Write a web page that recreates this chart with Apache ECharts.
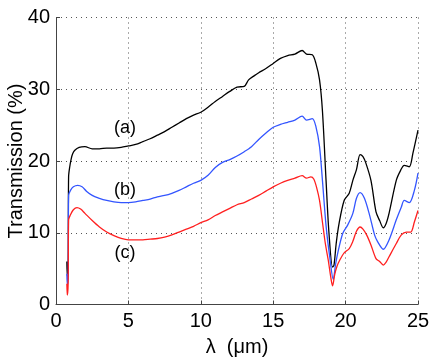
<!DOCTYPE html>
<html><head><meta charset="utf-8">
<script src="https://cdn.jsdelivr.net/npm/echarts@6/dist/echarts.min.js"></script>
<style>html,body{margin:0;padding:0;background:#fff}#c{width:436px;height:359px}</style>
</head><body><div id="c"></div>
<script>
const seriesA = [[0.75,6.0],[0.78,4.0],[0.84,5.0],[0.87,17.8],[0.95,19.2],[1.05,20.3],[1.15,21.0],[1.3,21.5],[1.6,21.9],[2.0,22.0],[2.5,21.7],[3.0,21.7],[3.5,21.8],[4.0,21.8],[4.5,21.9],[5.0,22.1],[5.5,22.3],[6.0,22.7],[6.5,23.1],[7.0,23.6],[7.5,24.1],[8.0,24.7],[8.5,25.3],[9.0,25.9],[9.5,26.4],[10.0,26.8],[10.5,27.5],[11.0,28.3],[11.5,29.0],[12.0,29.7],[12.5,30.3],[13.0,30.4],[13.3,31.3],[13.7,31.9],[14.0,32.3],[14.5,32.9],[15.0,33.6],[15.5,34.3],[16.0,34.7],[16.5,34.9],[17.0,35.4],[17.3,34.9],[17.7,34.8],[17.95,33.6],[18.2,31.3],[18.4,27.0],[18.65,17.3],[18.85,10.0],[19.1,5.2],[19.2,5.5],[19.35,8.5],[19.55,11.3],[19.9,14.5],[20.25,15.5],[20.5,17.3],[20.75,18.8],[21.0,20.9],[21.2,20.6],[21.4,19.7],[21.75,17.3],[22.1,12.9],[22.35,11.7],[22.6,10.7],[22.8,11.3],[23.0,12.7],[23.5,17.3],[23.8,18.7],[24.05,19.4],[24.4,19.2],[24.65,21.1],[25.0,24.3]];
const seriesB = [[0.75,4.3],[0.78,2.8],[0.84,4.0],[0.87,15.2],[1.0,15.9],[1.2,16.4],[1.5,16.6],[1.8,16.4],[2.1,15.8],[2.5,15.2],[3.0,14.8],[3.5,14.5],[4.0,14.3],[4.5,14.2],[5.0,14.2],[5.5,14.3],[6.0,14.5],[6.5,14.7],[7.0,15.0],[7.5,15.2],[8.0,15.5],[8.5,15.9],[9.0,16.4],[9.5,16.9],[10.0,17.3],[10.5,18.0],[11.0,19.1],[11.5,19.8],[12.0,20.2],[12.5,20.7],[13.0,21.3],[13.5,22.0],[14.0,23.0],[14.5,23.9],[15.0,24.7],[15.5,25.1],[16.0,25.4],[16.5,25.7],[17.0,26.25],[17.3,25.7],[17.7,25.9],[17.95,24.8],[18.2,22.0],[18.4,17.3],[18.65,11.0],[18.9,6.7],[19.15,3.5],[19.3,5.5],[19.45,7.1],[19.8,9.9],[20.15,11.1],[20.5,12.7],[20.75,14.8],[21.0,15.6],[21.3,14.8],[21.65,12.5],[22.0,9.7],[22.2,8.8],[22.6,7.7],[23.0,9.0],[23.5,11.8],[23.85,13.6],[24.05,14.5],[24.4,14.2],[24.75,15.9],[25.0,18.3]];
const seriesC = [[0.75,2.9],[0.78,1.3],[0.84,3.0],[0.87,11.8],[1.0,12.5],[1.2,13.2],[1.45,13.5],[1.7,13.3],[2.0,12.7],[2.5,11.7],[3.0,10.8],[3.5,10.1],[4.0,9.6],[4.5,9.2],[5.0,9.0],[5.5,9.0],[6.0,9.0],[6.5,9.1],[7.0,9.2],[7.5,9.4],[8.0,9.7],[8.5,10.1],[9.0,10.5],[9.5,10.9],[10.0,11.4],[10.5,11.8],[11.0,12.4],[11.5,12.9],[12.0,13.4],[12.5,13.9],[13.0,14.2],[13.5,14.7],[14.0,15.2],[14.5,15.8],[15.0,16.4],[15.5,16.9],[16.0,17.3],[16.5,17.6],[17.0,17.95],[17.3,17.6],[17.6,17.8],[17.8,17.5],[18.0,16.3],[18.2,14.5],[18.4,11.5],[18.6,8.5],[18.8,6.2],[19.0,3.5],[19.1,2.6],[19.25,4.2],[19.4,5.3],[19.6,6.2],[19.9,7.2],[20.25,7.8],[20.5,8.8],[20.75,10.2],[21.0,10.8],[21.2,10.5],[21.45,9.7],[21.75,8.3],[22.1,6.4],[22.35,6.0],[22.6,5.5],[22.8,5.9],[23.0,6.65],[23.5,8.5],[23.85,9.7],[24.2,10.1],[24.5,10.1],[24.75,11.5],[25.0,13.1]];
const curveLabels = [[4.77,24.6,'(a)'],[4.77,15.95,'(b)'],[4.77,7.2,'(c)']];
const xTicks = [0,5,10,15,20,25];
const yTicks = [0,10,20,30,40];

const font = 'Liberation Sans, Arial, Helvetica, sans-serif';
const chart = echarts.init(document.getElementById('c'), null, {renderer:'canvas'});
const gridLine = {show:true, lineStyle:{color:'#555', width:1, type:[1,4]}};
chart.setOption({
  animation:false,
  grid:{left:56, right:18, top:17.5, bottom:54.5, containLabel:false, outerBoundsMode:'none'},
  xAxis:{type:'value', min:xTicks[0], max:xTicks[xTicks.length-1], interval:5,
    name:'λ  (μm)', nameLocation:'middle', nameGap:33, nameMoveOverlap:false,
    nameTextStyle:{fontFamily:font, fontSize:20, color:'#000'},
    axisLine:{show:true, lineStyle:{color:'#444', width:1}},
    axisTick:{show:true, inside:true, length:4, lineStyle:{color:'#444'}},
    axisLabel:{fontFamily:font, fontSize:20, color:'#000', margin:7},
    splitLine:gridLine},
  yAxis:{type:'value', min:yTicks[0], max:yTicks[yTicks.length-1], interval:10,
    name:'Transmission (%)', nameLocation:'middle', nameGap:30, nameMoveOverlap:false,
    nameTextStyle:{fontFamily:font, fontSize:20, color:'#000'},
    axisLine:{show:true, lineStyle:{color:'#444', width:1}},
    axisTick:{show:true, inside:true, length:4, lineStyle:{color:'#444'}},
    axisLabel:{fontFamily:font, fontSize:20, color:'#000', margin:6},
    splitLine:gridLine},
  series:[
    {type:'line', data:seriesA, showSymbol:false, smooth:0.3, lineStyle:{color:'#000', width:1.3}},
    {type:'line', data:seriesB, showSymbol:false, smooth:0.3, lineStyle:{color:'#3355ff', width:1.3}},
    {type:'line', data:seriesC, showSymbol:false, smooth:0.3, lineStyle:{color:'#ff1f1f', width:1.3}},
    {type:'scatter', symbolSize:1, itemStyle:{opacity:1, color:'rgba(0,0,0,0)'}, silent:true,
      data:curveLabels.map(d=>({value:[d[0],d[1]], name:d[2]})),
      label:{show:true, position:'inside', formatter:p=>p.name, fontFamily:font, fontSize:18, color:'#000', opacity:1}}
  ]
});
</script></body></html>
